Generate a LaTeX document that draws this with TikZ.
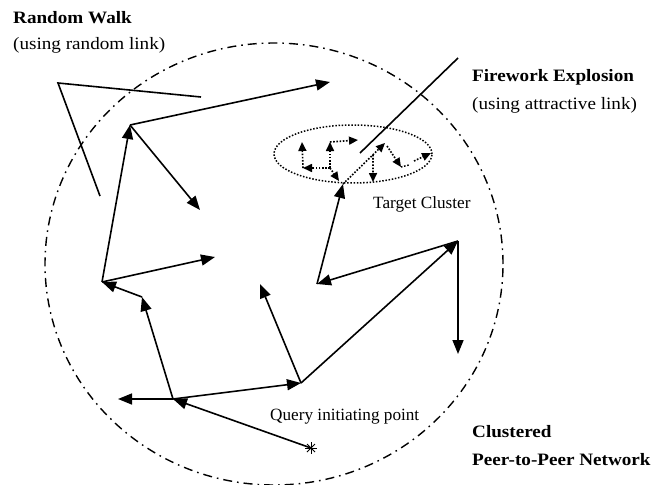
\documentclass[tikz,border=0pt]{standalone}
\usepackage{fontspec}
\setmainfont{Liberation Serif}
\newfontfamily\labfont[FakeStretch=1.1]{Liberation Serif}
\usetikzlibrary{arrows.meta,calc}
\tikzset{
  walk/.style={line width=1.6pt,-{Triangle[length=14pt,width=11pt]}},
  plainline/.style={line width=1.6pt},
  fire/.style={line width=1.6pt,dash pattern=on 1.6pt off 1.6pt,-{Triangle[length=9pt,width=8pt]}},
  fireline/.style={line width=1.5pt,dash pattern=on 1.5pt off 1.7pt},
  netborder/.style={line width=1.4pt,dash pattern=on 9pt off 5pt on 1.6pt off 5pt},
  biglabel/.style={anchor=base west,inner sep=0pt,font=\labfont\fontsize{17.4}{20}\selectfont},
  smalllabel/.style={anchor=base west,inner sep=0pt,font=\fontsize{17.2}{20}\selectfont},
}
\begin{document}
\begin{tikzpicture}[x=1pt,y=-1pt]
\useasboundingbox (0,0) rectangle (652,484);
% network border
\draw[netborder] (274,264) ellipse [x radius=229pt, y radius=221pt];
% target cluster
\draw[fireline] (353,154) ellipse [x radius=79pt, y radius=29pt];

% coordinates
\coordinate (A) at (58,83);
\coordinate (A1) at (201,97);
\coordinate (A2) at (100,196);
\coordinate (B) at (130,125);
\coordinate (B1) at (330,82);
\coordinate (B2) at (200,210);
\coordinate (P) at (102,282);
\coordinate (P1) at (215,257);
\coordinate (Q) at (142,297);
\coordinate (R) at (173,399);
\coordinate (R1) at (118,399);
\coordinate (S) at (301,383);
\coordinate (S1) at (260,284);
\coordinate (T) at (458,241);
\coordinate (T1) at (458,354);
\coordinate (U) at (317,284);
\coordinate (V) at (343,184);
\coordinate (X) at (311,448);
\coordinate (F1) at (458,58);
\coordinate (F2) at (360,153);
% cluster points
\coordinate (c1) at (330,168);
\coordinate (c2) at (303,168);
\coordinate (c3) at (302,142);
\coordinate (c4) at (330,142);
\coordinate (c5) at (358,140);
\coordinate (c6) at (339,181);
\coordinate (e1) at (385,143);
\coordinate (e2) at ($(V)!0.714!(e1)$);
\coordinate (e3) at (373,182);
\coordinate (f0) at (387,146);
\coordinate (f1) at (401,167);
\coordinate (f2) at (409,165);
\coordinate (f3) at (414,161);
\coordinate (f4) at (431,153);

% random walk (unterminated link)
\draw[plainline] (A1) -- (A) -- (A2);
% random walk arrows
\draw[walk] (P) -- (B);
\draw[walk] (B) -- (B1);
\draw[walk] (B) -- (B2);
\draw[walk] (P) -- (P1);
\draw[walk] (Q) -- (P);
\draw[walk] (R) -- (Q);
\draw[walk] (R) -- (R1);
\draw[walk] (R) -- (S);
\draw[walk] (S) -- (S1);
\draw[walk] (X) -- (R);
\draw[walk] (S) -- (T);
\draw[walk] (T) -- (T1);
\draw[walk] (T) -- (U);
\draw[walk] (U) -- (V);

% firework explosion
\draw[fire] (c1) -- (c2);
\draw[fire] (c2) -- (c3);
\draw[fire] (c1) -- (c4);
\draw[fire] (c4) -- (c5);
\draw[fire] (c1) -- (c6);
\draw[fire] (V) -- (e1);
\draw[fire] (e2) -- (e3);
\draw[fire] (f0) -- (f1);
\draw[fireline] (f1) -- (f2);
\draw[fire] (f3) -- (f4);

% leader line
\draw[line width=1.6pt] (F2) -- (F1);

% query initiating point star
\draw[line width=0.8pt] ($(X)+(-6,0)$) -- ($(X)+(6,0)$);
\draw[line width=0.8pt] ($(X)+(0,-6)$) -- ($(X)+(0,6)$);
\draw[line width=0.8pt] ($(X)+(-4,-4)$) -- ($(X)+(4,4)$);
\draw[line width=0.8pt] ($(X)+(-4,4)$) -- ($(X)+(4,-4)$);

% labels
\node[biglabel] (rw) at (13,24) {\bfseries Random Walk};
\node[biglabel] (rwl) at (13,50) {(using random link)};
\node[biglabel] (fe) at (472,82) {\bfseries Firework Explosion};
\node[biglabel] (fel) at (472,110) {(using attractive link)};
\node[smalllabel] (tc) at (373,208) {Target Cluster};
\node[smalllabel] (qp) at (270,420) {Query initiating point};
\node[biglabel] (cl) at (472,437) {\bfseries Clustered};
\node[biglabel] (p2p) at (472,465) {\bfseries Peer-to-Peer Network};
\end{tikzpicture}
\end{document}
